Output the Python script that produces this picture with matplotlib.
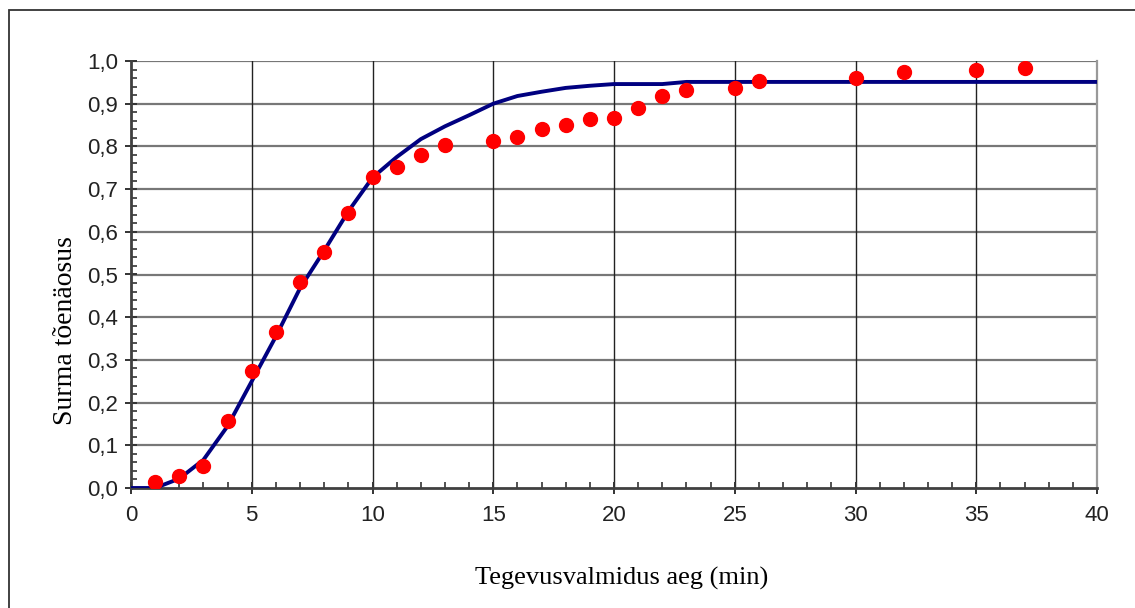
import numpy as np
import matplotlib
matplotlib.use("Agg")
from matplotlib import pyplot as plt
from matplotlib.patches import Rectangle
from matplotlib.ticker import MultipleLocator, FuncFormatter

# observed points (time in min, probability)
obs_t = [1, 2, 3, 4, 5, 6, 7, 8, 9, 10, 11, 12, 13, 15, 16, 17, 18, 19, 20,
         21, 22, 23, 25, 26, 30, 32, 35, 37]
obs_p = [0.014, 0.028, 0.052, 0.157, 0.274, 0.365, 0.482, 0.553, 0.644, 0.728,
         0.752, 0.780, 0.803, 0.813, 0.821, 0.840, 0.849, 0.863, 0.867,
         0.890, 0.918, 0.932, 0.937, 0.952, 0.961, 0.975, 0.979, 0.984]

# fitted curve
fit_t = list(range(0, 41))
fit_p = [0.0, 0.0, 0.022, 0.066, 0.145, 0.25, 0.355, 0.468, 0.556, 0.648,
         0.727, 0.775, 0.817, 0.847, 0.873, 0.900, 0.918, 0.928, 0.937, 0.942,
         0.946, 0.946, 0.946, 0.951, 0.951, 0.951, 0.951, 0.951, 0.951, 0.951,
         0.951, 0.951, 0.951, 0.951, 0.951, 0.951, 0.951, 0.951, 0.951, 0.951,
         0.951]

fig = plt.figure(figsize=(11.35, 6.08), dpi=100)
ax = fig.add_axes([131/1135, 1 - 488/608, 966/1135, 427/608])

# outer frame
fig.patches.append(Rectangle((9/1135, -0.05), 1.2, 1 - 10/608 + 0.05,
                             transform=fig.transFigure, fill=False,
                             edgecolor='#333333', linewidth=1.3))

ax.set_xlim(0, 40)
ax.set_ylim(0, 1.0)

ax.xaxis.set_major_locator(MultipleLocator(5))
ax.xaxis.set_minor_locator(MultipleLocator(1))
ax.yaxis.set_major_locator(MultipleLocator(0.1))
ax.yaxis.set_minor_locator(MultipleLocator(0.02))
ax.yaxis.set_major_formatter(FuncFormatter(lambda v, p: f"{v:.1f}".replace('.', ',')))

for h in np.arange(0.1, 1.01, 0.1):
    ax.axhline(h, color='#777777', linewidth=1.6, zorder=1)
for v in range(5, 40, 5):
    ax.axvline(v, color='#222222', linewidth=1.0, zorder=1)

ax.plot(fit_t, fit_p, color='#000080', linewidth=2.8, zorder=3,
        solid_joinstyle='round')
ax.plot(obs_t, obs_p, 'o', color='#ff0000', markersize=10, zorder=4)

for s in ['left', 'bottom']:
    ax.spines[s].set_color('#404040')
    ax.spines[s].set_linewidth(2.0)
for s in ['top', 'right']:
    ax.spines[s].set_color('#999999')
    ax.spines[s].set_linewidth(1.6)
ax.spines['top'].set_visible(False)

ax.tick_params(which='major', direction='inout', length=9, width=1.4, color='#333333',
               labelsize=16, labelcolor='#222222')
ax.tick_params(which='minor', direction='in', length=4, width=1.2, color='#333333')
ax.tick_params(axis='x', which='major', pad=8)
ax.tick_params(axis='y', which='major', pad=5)
for lab in ax.get_xticklabels() + ax.get_yticklabels():
    lab.set_family('Liberation Sans')

fig.text(622/1135, 1 - 578/608, 'Tegevusvalmidus aeg (min)', family='Liberation Serif',
         fontsize=19, ha='center', va='center')
fig.text(66/1135, 1 - 331/608, 'Surma tõenäosus', family='Liberation Serif',
         fontsize=20, ha='center', va='center', rotation=90)

fig.savefig('out.png', dpi=100)
